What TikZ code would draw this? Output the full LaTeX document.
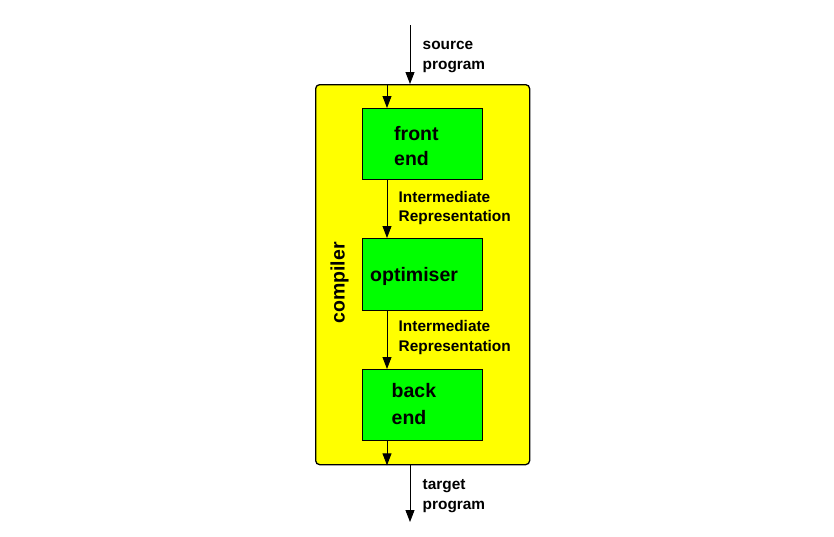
\documentclass[tikz,border=0pt]{standalone}
\usepackage{fontspec}
\setmainfont{Liberation Sans}
\usetikzlibrary{arrows.meta}
\definecolor{compyellow}{RGB}{255,255,0}
\definecolor{stagegreen}{RGB}{0,255,0}
\begin{document}
\begin{tikzpicture}[x=1pt,y=-1pt,
  compbox/.style={draw=black, line width=1.3pt, fill=compyellow, rounded corners=4pt, anchor=north west, inner sep=0pt},
  stagebox/.style={draw=black, line width=0.9pt, fill=stagegreen, anchor=north west, inner sep=0pt, minimum width=120pt, minimum height=71pt},
  bigtxt/.style={font=\fontsize{19.5}{24}\selectfont\bfseries, anchor=base west, inner sep=0pt},
  smalltxt/.style={font=\fontsize{15.4}{19}\selectfont\bfseries, anchor=base west, inner sep=0pt},
  arr/.style={line width=0.9pt, -{Triangle[length=12pt,width=9pt]}}]
\useasboundingbox (0,0) rectangle (834,536);
% containers
\node[compbox, minimum width=214pt, minimum height=380pt] (comp) at (315,84) {};
\node[stagebox] (front) at (362,108) {};
\node[stagebox, minimum height=72pt] (opt) at (362,238) {};
\node[stagebox] (back) at (362,369) {};
% stage texts
\node[bigtxt] (front1) at (394,140.5) {front};
\node[bigtxt] (front2) at (394,165) {end};
\node[bigtxt] (opt1) at (370,281.5) {optimiser};
\node[bigtxt] (back1) at (391.5,397.5) {back};
\node[bigtxt] (back2) at (391.5,424) {end};
\node[font=\fontsize{19.5}{24}\selectfont\bfseries, rotate=90, inner sep=0pt] (complbl) at (339.5,283) {compiler};
% connectors
\coordinate (ix) at (387,0);
\coordinate (src) at (410,25);
\coordinate (tgt) at (410,522);
\draw[arr] (src) -- (comp.north -| src);
\draw[arr] (comp.north -| ix) -- (front.north -| ix);
\draw[arr] (front.south -| ix) -- (opt.north -| ix);
\draw[arr] (opt.south -| ix) -- (back.north -| ix);
\draw[arr] (back.south -| ix) -- (comp.south -| ix);
\draw[arr] (comp.south -| tgt) -- (tgt);
% labels
\node[smalltxt] (src1) at (422.5,49.3) {source};
\node[smalltxt] (src2) at (422.5,69.3) {program};
\node[smalltxt] (ir1a) at (398.5,202.3) {Intermediate};
\node[smalltxt] (ir1b) at (398.5,221.7) {Representation};
\node[smalltxt] (ir2a) at (398.5,331.7) {Intermediate};
\node[smalltxt] (ir2b) at (398.5,351.5) {Representation};
\node[smalltxt] (tgt1) at (422.5,489.3) {target};
\node[smalltxt] (tgt2) at (422.5,509.3) {program};
\end{tikzpicture}
\end{document}
